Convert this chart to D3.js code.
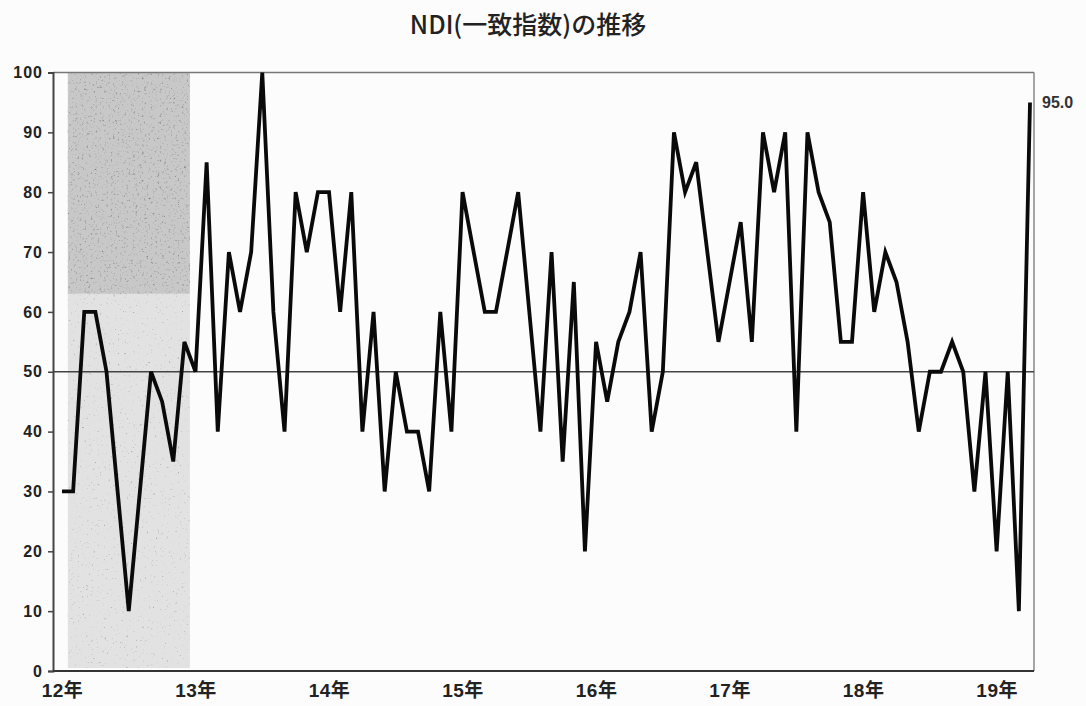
<!DOCTYPE html>
<html><head><meta charset="utf-8">
<script src="https://cdn.jsdelivr.net/npm/d3@7"></script>
<style>
html,body{margin:0;padding:0;background:#fcfcfc;}
svg{display:block;}
</style></head>
<body>
<svg id="chart" width="1086" height="706"></svg>
<script>
// ---- data ----
const title = "NDI(一致指数)の推移";
const yearLabels = ["12年","13年","14年","15年","16年","17年","18年","19年"];
const yTicks = [0,10,20,30,40,50,60,70,80,90,100];
// monthly values Jan 2012 .. Apr 2019
const values2012 = [30,30,60,60,50,30,10,30,50,45,35,55];
const values2013 = [50,85,40,70,60,70,100,60,40,80,70,80];
const values2014 = [80,60,80,40,60,30,50,40,40,30,60,40];
const values2015 = [80,70,60,60,70,80,60,40,70,35,65,20];
const values2016 = [55,45,55,60,70,40,50,90,80,85,70,55];
const values2017 = [65,75,55,90,80,90,40,90,80,75,55,55];
const values2018 = [80,60,70,65,55,40,50,50,55,50,30,50];
const values2019 = [20,50,10,95];
const lastLabel = "95.0";
const referenceLevel = 50;
const shadeStartIdx = 0.5, shadeEndIdx = 11.5; // shaded period (2012)

const values = [].concat(values2012,values2013,values2014,values2015,values2016,values2017,values2018,values2019);

// ---- layout ----
const svg = d3.select("#chart");
const plotL = 53, plotR = 1034, plotT = 72.5, plotB = 671;
const x = d3.scaleLinear().domain([0, values.length-1]).range([62, 1030]);
const y = d3.scaleLinear().domain([0,100]).range([plotB, plotT]);

const defs = svg.append("defs");
function stipple(id, freq, slope, intercept, seed){
  const f = defs.append("filter").attr("id",id)
    .attr("x",0).attr("y",0).attr("width","100%").attr("height","100%");
  f.append("feTurbulence").attr("type","fractalNoise").attr("baseFrequency",freq)
    .attr("numOctaves",3).attr("seed",seed).attr("result","t");
  f.append("feColorMatrix").attr("in","t").attr("type","saturate").attr("values",0).attr("result","g");
  const ct = f.append("feComponentTransfer").attr("in","g").attr("result","c");
  ["feFuncR","feFuncG","feFuncB"].forEach(n=>ct.append(n).attr("type","linear").attr("slope",slope).attr("intercept",intercept));
  ct.append("feFuncA").attr("type","linear").attr("slope",0).attr("intercept",1);
  f.append("feBlend").attr("in","SourceGraphic").attr("in2","c").attr("mode","multiply").attr("result","m");
  f.append("feComposite").attr("in","m").attr("in2","SourceGraphic").attr("operator","in");
}
stipple("stippleDark", 0.45, 2.4, -0.05, 7);
stipple("stippleLight", 0.45, 2.6, 0.05, 11);

// shaded region (upper darker, lower lighter as in the scan)
const sx0 = x(shadeStartIdx), sx1 = x(shadeEndIdx);
svg.append("rect").attr("x",sx0).attr("y",plotT).attr("width",sx1-sx0).attr("height",y(63)-plotT)
  .attr("fill","#c8c8c8").attr("filter","url(#stippleDark)");
svg.append("rect").attr("x",sx0).attr("y",y(63)).attr("width",sx1-sx0).attr("height",y(0.5)-y(63))
  .attr("fill","#e2e2e2").attr("filter","url(#stippleLight)");

// frame
svg.append("line").attr("x1",plotL).attr("x2",plotR).attr("y1",plotT).attr("y2",plotT)
  .attr("stroke","#777").attr("stroke-width",1.3);
svg.append("line").attr("x1",plotR).attr("x2",plotR).attr("y1",plotT).attr("y2",plotB)
  .attr("stroke","#777").attr("stroke-width",1.3);

// 50 reference line
svg.append("line").attr("x1",plotL).attr("x2",plotR).attr("y1",y(referenceLevel)).attr("y2",y(referenceLevel))
  .attr("stroke","#444").attr("stroke-width",1.4);

// y axis
const yAxis = d3.axisLeft(y).tickValues(yTicks).tickSize(5).tickPadding(5).tickFormat(d3.format("d"));
const gy = svg.append("g").attr("transform",`translate(${plotL},0)`).call(yAxis);
gy.select(".domain").attr("stroke","#444").attr("stroke-width",2);
gy.selectAll(".tick line").attr("stroke","#444").attr("stroke-width",1.5);
gy.selectAll(".tick text").attr("font-family","'Liberation Sans', Arial, sans-serif")
  .attr("font-size",16).attr("font-weight","bold").attr("letter-spacing",1).attr("fill","#222");

// x axis (year labels at January of each year)
const yearIdx = yearLabels.map((d,i)=>i*12);
const xAxis = d3.axisBottom(x).tickValues(yearIdx).tickSize(0).tickPadding(13)
  .tickFormat((d,i)=>yearLabels[i]);
const gx = svg.append("g").attr("transform",`translate(0,${plotB})`).call(xAxis);
gx.select(".domain").attr("d",`M${plotL},0H${plotR}`).attr("stroke","#333").attr("stroke-width",2.2);
gx.selectAll(".tick text").attr("font-family","'Liberation Sans','Noto Sans CJK JP', sans-serif")
  .attr("font-size",19).attr("font-weight","bold").attr("letter-spacing",0.5).attr("fill","#222");

// the series line
const line = d3.line().x((d,i)=>x(i)).y(d=>y(d)).curve(d3.curveLinear);
svg.append("path").datum(values).attr("d",line).attr("fill","none")
  .attr("stroke","#0a0a0a").attr("stroke-width",3.8).attr("stroke-linejoin","miter").attr("stroke-miterlimit",4);

// last value label
svg.append("text").attr("x",plotR+8).attr("y",y(values[values.length-1])+6)
  .attr("font-family","'Liberation Sans', Arial, sans-serif").attr("font-size",16)
  .attr("font-weight","bold").attr("fill","#333").text(lastLabel);

// title
svg.append("text").attr("x",528).attr("y",34).attr("text-anchor","middle")
  .attr("font-family","'Noto Sans CJK JP', sans-serif").attr("font-size",25)
  .attr("font-weight",500).attr("fill","#222").text(title);
</script>
</body></html>
